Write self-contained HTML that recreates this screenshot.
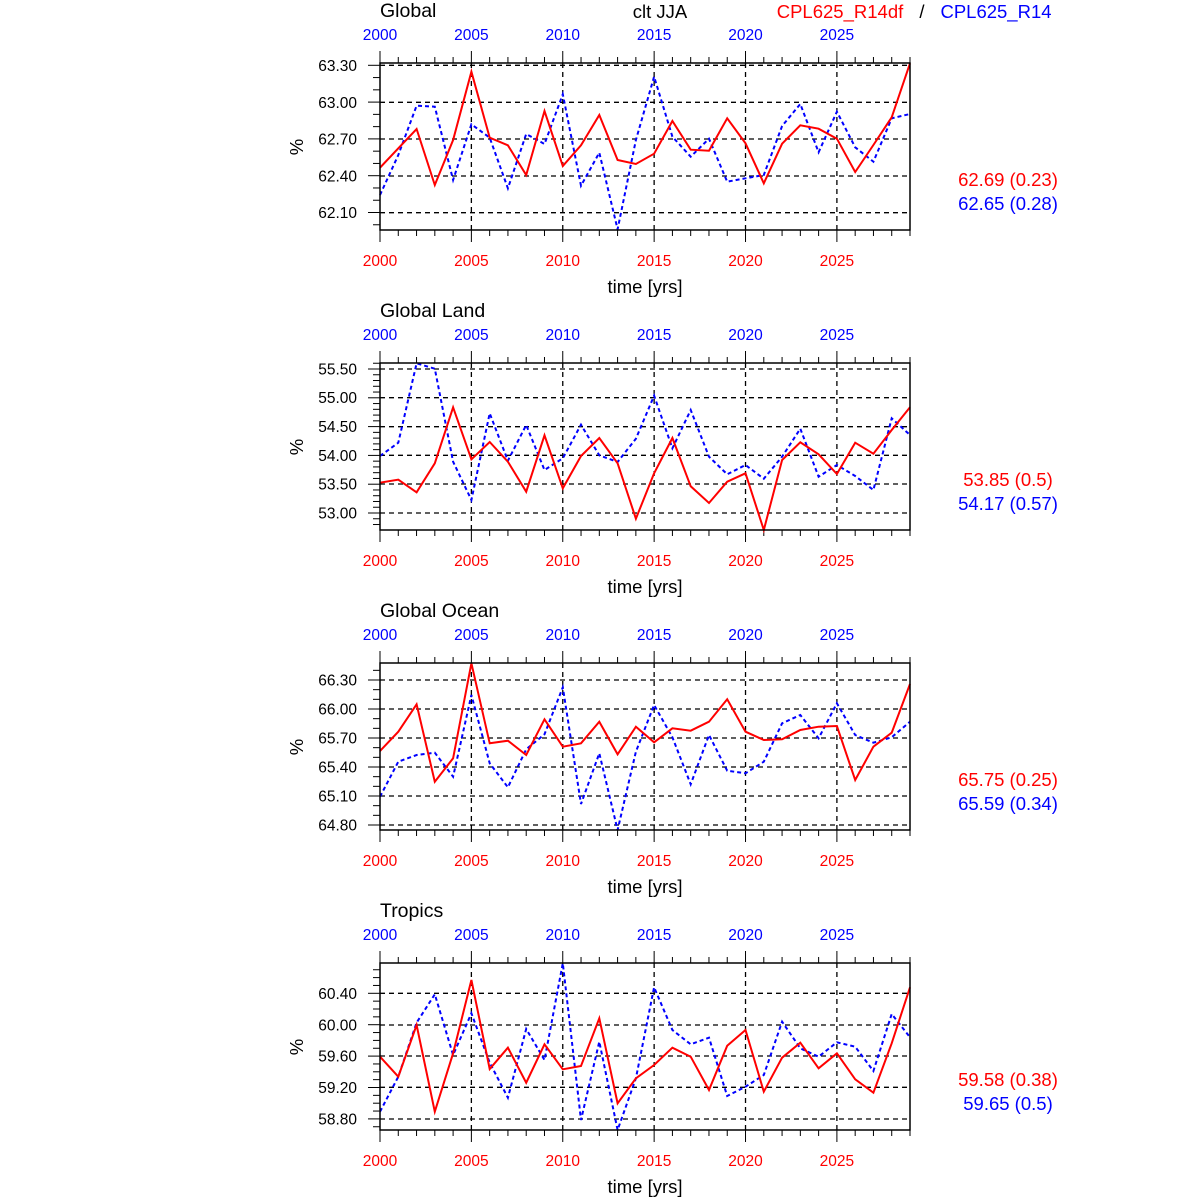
<!DOCTYPE html>
<html><head><meta charset="utf-8"><style>
html,body{margin:0;padding:0;background:#fff}
svg{display:block;font-family:"Liberation Sans",sans-serif}
</style></head><body>
<svg id="s" width="1200" height="1200" viewBox="0 0 1200 1200" xmlns="http://www.w3.org/2000/svg"></svg>
<script>
var S=document.getElementById('s'),h='';
function X(i){return 380+i*530/29;}
var P=[
 {t:'Global',top:40,grid:[65.3,102.3,139,176,212.7],lab:['63.30','63.00','62.70','62.40','62.10'],step:36.8/3,
  r:[383,325,267,435,300,95,293,316,405,213,378,316,225,360,372,341,243,329,332,235,310,430,311,256,266,296,396,315,232,70],
  b:[465,345,197,200,420,253,293,445,282,312,163,437,338,568,300,110,290,350,296,425,415,405,258,192,337,215,322,365,235,222],
  v1:'62.69 (0.23)',v2:'62.65 (0.28)'},
 {t:'Global Land',top:350,grid:[369,397.7,426.7,455.3,484,513],lab:['55.50','55.00','54.50','54.00','53.50','53.00'],step:28.8/5,
  r:[398,389,427,340,172,328,276,335,425,256,415,318,264,340,506,370,264,409,459,395,370,540,330,277,313,372,278,311,240,172],
  b:[318,278,40,56,335,450,190,332,225,360,325,224,316,336,266,137,295,180,320,373,345,386,320,236,380,345,378,420,205,255],
  v1:'53.85 (0.5)',v2:'54.17 (0.57)'},
 {t:'Global Ocean',top:650,grid:[680,709,738,767,796,825],lab:['66.30','66.00','65.70','65.40','65.10','64.80'],step:29/3,
  r:[303,245,163,395,325,40,280,272,315,208,290,280,215,313,230,277,235,242,215,148,245,270,268,240,230,228,390,290,248,102],
  b:[440,335,315,308,380,135,340,412,298,253,112,462,310,540,305,165,262,403,255,362,370,335,220,195,265,160,255,278,262,215],
  v1:'65.75 (0.25)',v2:'65.59 (0.34)'},
 {t:'Tropics',top:950,grid:[993.3,1025,1056,1087.3,1119],lab:['60.40','60.00','59.60','59.20','58.80'],step:31.4/4,
  r:[320,380,225,485,310,90,357,293,398,283,358,348,205,460,385,345,293,320,420,287,240,425,323,278,355,310,388,428,280,112],
  b:[485,380,218,133,315,190,338,443,237,330,40,510,275,540,385,112,240,283,263,438,410,375,215,295,320,277,290,363,192,262],
  v1:'59.58 (0.38)',v2:'59.65 (0.5)'}
];
h+='<text x="660" y="18" font-size="18.5" text-anchor="middle">clt JJA</text>';
h+='<text x="840" y="18" font-size="18.5" text-anchor="middle" fill="#f00">CPL625_R14df</text>';
h+='<text x="922" y="18" font-size="18.5" text-anchor="middle">/</text>';
h+='<text x="996" y="18" font-size="18.5" text-anchor="middle" fill="#00f">CPL625_R14</text>';
P.forEach(function(p,k){
 var o=300*k,T=63+o,B=230+o;
 if(p.t)h+='<text x="380" y="'+(17+o)+'" font-size="19.5">'+p.t+'</text>';
 p.grid.forEach(function(g,j){
  h+='<line x1="380" x2="910" y1="'+g+'" y2="'+g+'" stroke="#000" stroke-width="1.3" stroke-dasharray="5,4"/>';
  h+='<text x="357" y="'+(g+5.5)+'" font-size="15.5" text-anchor="end">'+p.lab[j]+'</text>';
 });
 var g0=p.grid[0];
 for(var y=g0-10*p.step;y<=B+0.1;y+=p.step){
  if(y<T-0.1)continue;
  var isMaj=p.grid.some(function(g){return Math.abs(g-y)<1;});
  h+='<line x1="'+(isMaj?368:373)+'" x2="380" y1="'+y+'" y2="'+y+'" stroke="#000" stroke-width="1"/>';
 }
 for(var i=0;i<30;i++){
  var x=X(i),maj=(i%5==0);
  h+='<line x1="'+x+'" x2="'+x+'" y1="'+(T-(maj?12:6))+'" y2="'+T+'" stroke="#000" stroke-width="1"/>';
  h+='<line x1="'+x+'" x2="'+x+'" y1="'+B+'" y2="'+(B+(maj?12:6))+'" stroke="#000" stroke-width="1"/>';
  if(maj){
   if(i>0)h+='<line x1="'+x+'" x2="'+x+'" y1="'+T+'" y2="'+B+'" stroke="#000" stroke-width="1.3" stroke-dasharray="5,4"/>';
   h+='<text x="'+x+'" y="'+(40+o)+'" font-size="15.5" text-anchor="middle" fill="#00f">'+(2000+i)+'</text>';
   h+='<text x="'+x+'" y="'+(266+o)+'" font-size="15.5" text-anchor="middle" fill="#f00">'+(2000+i)+'</text>';
  }
 }
 function pts(a){return a.map(function(z,i){return X(i).toFixed(1)+','+(p.top+z/3).toFixed(1);}).join(' ');}
 h+='<polyline points="'+pts(p.b)+'" fill="none" stroke="#00f" stroke-width="2" stroke-dasharray="4,3"/>';
 h+='<polyline points="'+pts(p.r)+'" fill="none" stroke="#f00" stroke-width="2"/>';
 h+='<rect x="380" y="'+T+'" width="530" height="167" fill="none" stroke="#000" stroke-width="1.5"/>';
 h+='<text x="645" y="'+(293+o)+'" font-size="18.5" text-anchor="middle">time [yrs]</text>';
 h+='<text transform="translate(303,'+(147+o)+') rotate(-90)" font-size="18.5" text-anchor="middle">%</text>';
 h+='<text x="1008" y="'+(186+o)+'" font-size="18.5" text-anchor="middle" fill="#f00">'+p.v1+'</text>';
 h+='<text x="1008" y="'+(210+o)+'" font-size="18.5" text-anchor="middle" fill="#00f">'+p.v2+'</text>';
});
S.innerHTML=h;
</script>
</body></html>
